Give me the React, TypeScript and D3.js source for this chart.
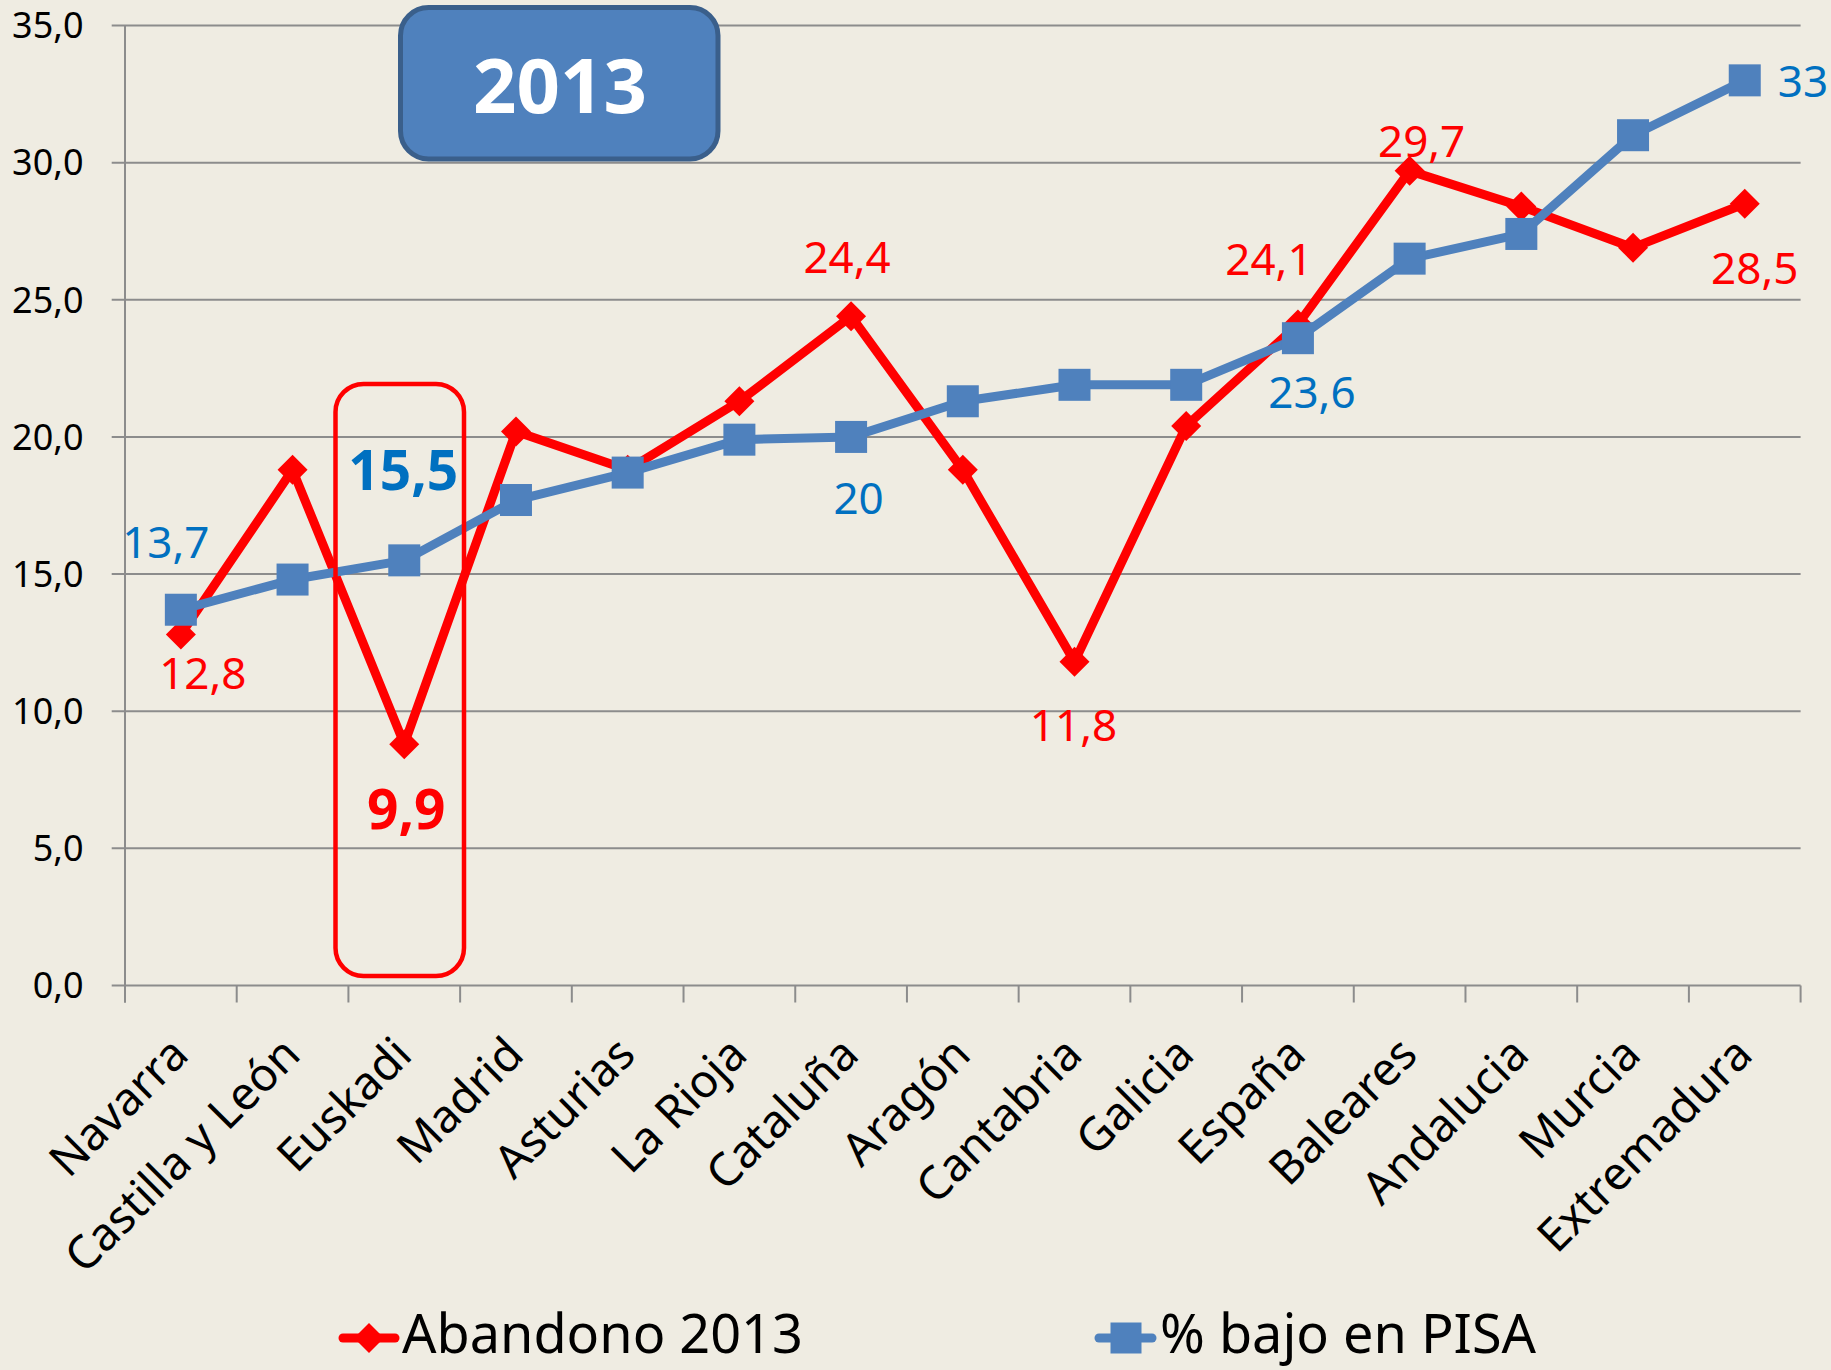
import React from "react";
import * as d3 from "d3";

const categories = [
  "Navarra", "Castilla y León", "Euskadi", "Madrid", "Asturias", "La Rioja", "Cataluña",
  "Aragón", "Cantabria", "Galicia", "España", "Baleares", "Andalucia", "Murcia", "Extremadura",
];
const abandono = [12.8, 18.8, 8.8, 20.2, 18.8, 21.3, 24.4, 18.8, 11.8, 20.4, 24.1, 29.7, 28.4, 26.9, 28.5];
const pisa = [13.7, 14.8, 15.5, 17.7, 18.7, 19.9, 20.0, 21.3, 21.9, 21.9, 23.6, 26.5, 27.4, 31.0, 33.0];
const yTicks = [0, 5, 10, 15, 20, 25, 30, 35];
const seriesNames = ["Abandono 2013", "% bajo en PISA"];
const boxTitle = "2013";

// data label annotations (index into series, shown text)
const abandonoLabels = [
  { i: 0, text: "12,8" }, { i: 2, text: "9,9" }, { i: 6, text: "24,4" }, { i: 8, text: "11,8" },
  { i: 10, text: "24,1" }, { i: 11, text: "29,7" }, { i: 14, text: "28,5" },
];
const pisaLabels = [
  { i: 0, text: "13,7" }, { i: 2, text: "15,5" }, { i: 6, text: "20" }, { i: 10, text: "23,6" }, { i: 14, text: "33" },
];

// placement styles for the labels (kept apart from data)
const abandonoLabelStyle: Record<number, { dx: number; dy: number; bold?: boolean }> = {
  0: { dx: 22, dy: 55 }, 2: { dx: 2, dy: 85, bold: true }, 6: { dx: -4, dy: -43 }, 8: { dx: -1, dy: 79 },
  10: { dx: -29, dy: -49 }, 11: { dx: 12, dy: -14 }, 14: { dx: 10, dy: 80 },
};
const pisaLabelStyle: Record<number, { dx: number; dy: number; bold?: boolean; start?: boolean }> = {
  0: { dx: -15, dy: -52 }, 2: { dx: -1, dy: -70, bold: true }, 6: { dx: 7.5, dy: 77 },
  10: { dx: 14, dy: 70 }, 14: { dx: 33, dy: 17, start: true },
};

const W = 1831;
const H = 1370;
const FONT = "'Noto Sans', 'Open Sans', sans-serif";
const RED = "#FF0000";
const BLUE = "#4F81BD";
const BLUE_TXT = "#0070C0";
const GRID = "#8C8C8C";

export default function App() {
  const left = 125, right = 1800.6, top = 25.5, bottom = 985.5;
  const x = d3.scaleBand<string>().domain(categories).range([left, right]).padding(0);
  const y = d3.scaleLinear().domain([0, 35]).range([bottom, top]);
  const cx = (i: number) => (x(categories[i]) as number) + x.bandwidth() / 2;

  const line = d3.line<number>().x((_, i) => cx(i)).y((d) => y(d));
  const fmt = (v: number) => v.toFixed(1).replace(".", ",");
  const boundaries = d3.range(categories.length + 1).map((k) => left + k * x.bandwidth());

  const diamond = (px: number, py: number, r: number) =>
    `M${px},${py - r}L${px + r},${py}L${px},${py + r}L${px - r},${py}Z`;

  return (
    <svg width={W} height={H} style={{ position: "absolute", left: 0, top: 0 }} fontFamily={FONT}>
      <rect x={0} y={0} width={W} height={H} fill="#EFECE2" />
      {/* gridlines + y labels */}
      {yTicks.map((t) => (
        <g key={t}>
          <line x1={111.7} x2={right} y1={y(t)} y2={y(t)} stroke={GRID} strokeWidth={2} />
          <text x={83.5} y={y(t) + 12.8} fontSize={36} textAnchor="end" fill="#000">{fmt(t)}</text>
        </g>
      ))}
      {/* axes */}
      <line x1={left} x2={left} y1={top} y2={bottom + 17} stroke={GRID} strokeWidth={2} />
      {boundaries.map((b, k) => (
        <line key={k} x1={b} x2={b} y1={bottom} y2={bottom + 17} stroke={GRID} strokeWidth={2} />
      ))}
      {/* x labels */}
      {categories.map((c, i) => (
        <text key={c} transform={`translate(${cx(i) + 10},${1057}) rotate(-45)`} textAnchor="end" fontSize={46} fill="#000">
          {c}
        </text>
      ))}
      {/* series: abandono */}
      <path d={line(abandono) as string} fill="none" stroke={RED} strokeWidth={9} strokeLinejoin="round" />
      {abandono.map((v, i) => (
        <path key={i} d={diamond(cx(i), y(v), 15)} fill={RED} />
      ))}
      {/* series: pisa */}
      <path d={line(pisa) as string} fill="none" stroke={BLUE} strokeWidth={9} strokeLinejoin="round" />
      {pisa.map((v, i) => (
        <rect key={i} x={cx(i) - 16} y={y(v) - 16} width={32} height={32} fill={BLUE} />
      ))}
      {/* data labels */}
      {abandonoLabels.map((l) => {
        const s = abandonoLabelStyle[l.i];
        return (
          <text key={"a" + l.i} x={cx(l.i) + s.dx} y={y(abandono[l.i]) + s.dy} textAnchor="middle"
            fontSize={s.bold ? 55 : 44} fontWeight={s.bold ? 700 : 400} fill={RED}>{l.text}</text>
        );
      })}
      {pisaLabels.map((l) => {
        const s = pisaLabelStyle[l.i];
        return (
          <text key={"p" + l.i} x={cx(l.i) + s.dx} y={y(pisa[l.i]) + s.dy} textAnchor={s.start ? "start" : "middle"}
            fontSize={s.bold ? 55 : 44} fontWeight={s.bold ? 700 : 400} fill={BLUE_TXT}>{l.text}</text>
        );
      })}
      {/* highlight box around Euskadi */}
      <rect x={335.5} y={384} width={128.5} height={592} rx={28} ry={28} fill="none" stroke={RED} strokeWidth={4.5} />
      {/* title box */}
      <rect x={400.5} y={7.5} width={317.5} height={151.5} rx={28} ry={28} fill="#4F81BD" stroke="#3A5F8B" strokeWidth={5} />
      <text x={560} y={113} textAnchor="middle" fontSize={76} fontWeight={700} fill="#fff">{boxTitle}</text>
      {/* legend */}
      <line x1={343} x2={395} y1={1338} y2={1338} stroke={RED} strokeWidth={9} strokeLinecap="round" />
      <path d={diamond(369, 1338, 15)} fill={RED} />
      <text x={402} y={1353} fontSize={54} fill="#000">{seriesNames[0]}</text>
      <line x1={1099} x2={1152} y1={1338} y2={1338} stroke={BLUE} strokeWidth={9} strokeLinecap="round" />
      <rect x={1110.5} y={1322.5} width={31} height={31} fill={BLUE} />
      <text x={1160} y={1353} fontSize={54} fill="#000">{seriesNames[1]}</text>
    </svg>
  );
}
